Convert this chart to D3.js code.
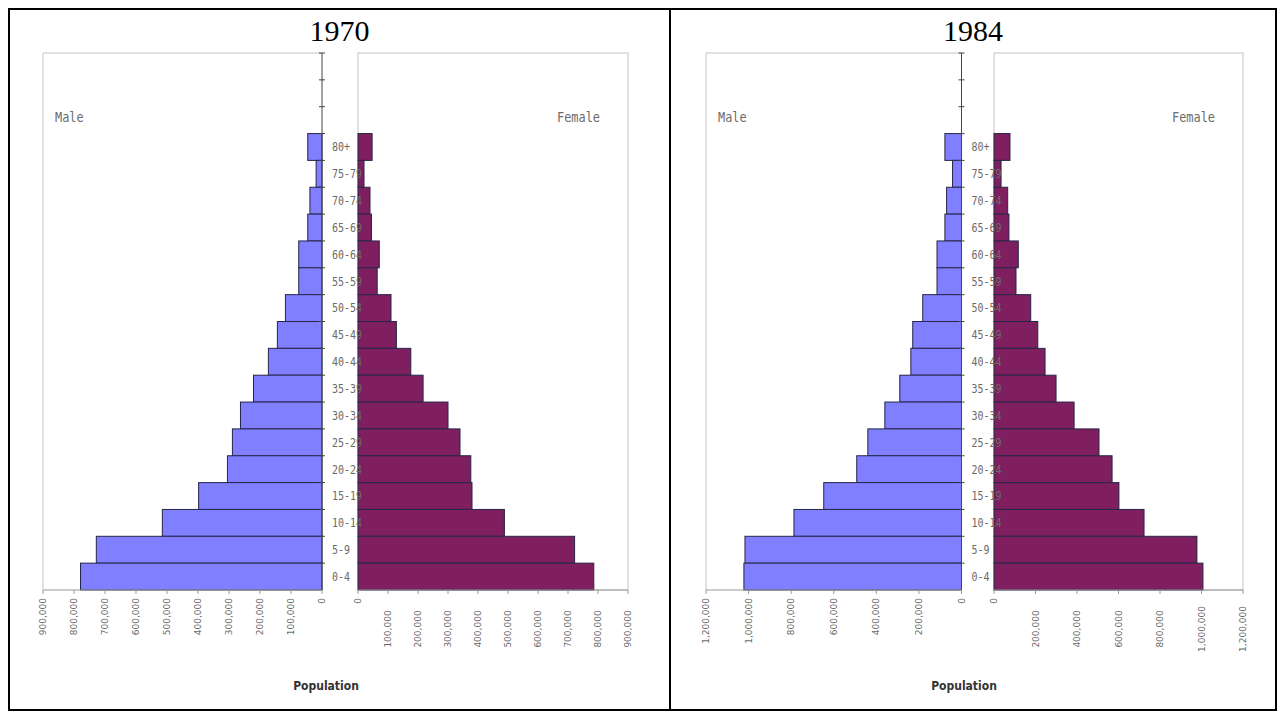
<!DOCTYPE html>
<html>
<head>
<meta charset="utf-8">
<script src="https://cdn.jsdelivr.net/npm/d3@7"></script>
<style>
  html, body { margin: 0; padding: 0; background: #fff; }
  svg { display: block; }
</style>
</head>
<body>
<svg id="chart" width="1284" height="718"></svg>
<script>
// ---------- DATA ----------
const ageGroups = ["80+", "75-79", "70-74", "65-69", "60-64", "55-59", "50-54", "45-49",
  "40-44", "35-39", "30-34", "25-29", "20-24", "15-19", "10-14", "5-9", "0-4"];
const blankSlots = ["_b1", "_b2", "_b3"];

const male1970 = [46000, 19000, 39000, 46000, 75000, 75000, 118000, 144000,
  173000, 221000, 263000, 289000, 305000, 398000, 515000, 728000, 779000];
const female1970 = [47000, 20000, 40000, 45000, 71000, 64000, 110000, 128000,
  176000, 217000, 300000, 340000, 376000, 380000, 488000, 722000, 786000];

const male1984 = [78000, 42000, 70000, 78000, 115000, 115000, 182000, 229000,
  238000, 290000, 360000, 440000, 492000, 647000, 787000, 1017000, 1022000];
const female1984 = [77000, 34000, 66000, 72000, 117000, 106000, 177000, 211000,
  246000, 299000, 386000, 506000, 569000, 602000, 723000, 978000, 1007000];

const ticks1970 = [0, 100000, 200000, 300000, 400000, 500000, 600000, 700000, 800000, 900000];
const ticks1984 = [0, 200000, 400000, 600000, 800000, 1000000, 1200000];

const panels = [
  { title: "1970", male: male1970, female: female1970, ticks: ticks1970, max: 900000,
    cellX0: 9, cellX1: 670, mL: 43, mR: 322, fL: 358, fR: 628, popX: 326 },
  { title: "1984", male: male1984, female: female1984, ticks: ticks1984, max: 1200000,
    cellX0: 670, cellX1: 1276, mL: 706, mR: 961.5, fL: 994, fR: 1243, popX: 964 }
];

// ---------- DRAW ----------
const svg = d3.select("#chart");
const fmt = d3.format(",");
const plotTop = 53, plotBottom = 590;
const maleColor = "#7f7fff", femaleColor = "#7f1f5f", barStroke = "#26264a";
const gridGray = "#c4c4c4", textGray = "#6a6a6a";
const mono = "'DejaVu Sans Mono', 'Liberation Mono', monospace";

// frame
svg.append("rect").attr("x", 9).attr("y", 9).attr("width", 1267).attr("height", 701)
  .attr("fill", "none").attr("stroke", "#000").attr("stroke-width", 2);
svg.append("line").attr("x1", 670).attr("x2", 670).attr("y1", 9).attr("y2", 710)
  .attr("stroke", "#000").attr("stroke-width", 2);

const y = d3.scaleBand().domain([...blankSlots, ...ageGroups]).range([plotTop, plotBottom]).padding(0);

panels.forEach(p => {
  const g = svg.append("g");
  const xm = d3.scaleLinear().domain([0, p.max]).range([p.mR, p.mL]);
  const xf = d3.scaleLinear().domain([0, p.max]).range([p.fL, p.fR]);

  // title
  g.append("text").attr("x", (p.cellX0 + p.cellX1) / 2).attr("y", 41)
    .attr("text-anchor", "middle").attr("font-family", "'Liberation Serif', 'Times New Roman', serif")
    .attr("font-size", 30).attr("fill", "#000").text(p.title);

  // plot borders
  g.append("path").attr("d", `M${p.mR},${plotTop}H${p.mL}V${plotBottom}`)
    .attr("fill", "none").attr("stroke", gridGray);
  g.append("rect").attr("x", p.fL).attr("y", plotTop).attr("width", p.fR - p.fL)
    .attr("height", plotBottom - plotTop).attr("fill", "none").attr("stroke", gridGray);

  // Male / Female labels
  g.append("text").attr("transform", `translate(${p.mL + 12},122) scale(0.85,1)`).attr("font-family", mono)
    .attr("font-size", 14).attr("fill", textGray).text("Male");
  g.append("text").attr("transform", `translate(${p.fR - 28},122) scale(0.85,1)`)
    .attr("text-anchor", "end").attr("font-family", mono)
    .attr("font-size", 14).attr("fill", textGray).text("Female");

  // bars
  g.append("g").selectAll("rect").data(ageGroups).join("rect")
    .attr("x", (d, i) => xm(p.male[i])).attr("y", d => y(d))
    .attr("width", (d, i) => xm(0) - xm(p.male[i])).attr("height", y.bandwidth())
    .attr("fill", maleColor).attr("stroke", barStroke).attr("stroke-width", 1);
  g.append("g").selectAll("rect").data(ageGroups).join("rect")
    .attr("x", xf(0)).attr("y", d => y(d))
    .attr("width", (d, i) => xf(p.female[i]) - xf(0)).attr("height", y.bandwidth())
    .attr("fill", femaleColor).attr("stroke", barStroke).attr("stroke-width", 1);

  // category axis (male side)
  g.append("line").attr("x1", p.mR).attr("x2", p.mR).attr("y1", plotTop).attr("y2", plotBottom)
    .attr("stroke", "#444");
  const bounds = y.domain().map(d => y(d));
  g.append("g").selectAll("line").data(bounds).join("line")
    .attr("x1", p.mR - 3).attr("x2", p.mR + 3).attr("y1", d => d).attr("y2", d => d)
    .attr("stroke", "#444");

  // age labels
  g.append("g").selectAll("text").data(ageGroups).join("text")
    .attr("transform", d => `translate(${p.mR + 10},${y(d) + y.bandwidth() / 2}) scale(0.8,1)`)
    .attr("dy", "0.35em")
    .attr("font-family", mono).attr("font-size", 12.5).attr("fill", textGray).text(d => d);

  // value axes
  [[xm, "m"], [xf, "f"]].forEach(([sc, side]) => {
    const ax = g.append("g");
    ax.append("line").attr("x1", sc.range()[0]).attr("x2", sc.range()[1])
      .attr("y1", plotBottom).attr("y2", plotBottom).attr("stroke", "#999");
    ax.selectAll("line.t").data(p.ticks).join("line").attr("class", "t")
      .attr("x1", d => sc(d)).attr("x2", d => sc(d)).attr("y1", plotBottom).attr("y2", plotBottom + 4)
      .attr("stroke", "#999");
    ax.selectAll("text").data(p.ticks).join("text")
      .attr("transform", d => {
        const ty = (side === "f" && d !== 0) ? 629 : 598;
        return `translate(${sc(d)},${ty}) rotate(-90)`;
      })
      .attr("text-anchor", d => (side === "f" && d !== 0) ? "middle" : "end")
      .attr("dy", "0.35em")
      .attr("font-family", "'DejaVu Sans', Verdana, sans-serif").attr("font-size", 9)
      .attr("fill", textGray).text(d => fmt(d));
  });

  // Population
  g.append("text").attr("x", p.popX).attr("y", 690).attr("text-anchor", "middle")
    .attr("font-family", "'Liberation Sans Narrow', 'DejaVu Sans Condensed', 'Arial Narrow', sans-serif")
    .attr("font-weight", "bold").attr("font-size", 12).attr("fill", "#333").text("Population");
});
</script>
</body>
</html>
